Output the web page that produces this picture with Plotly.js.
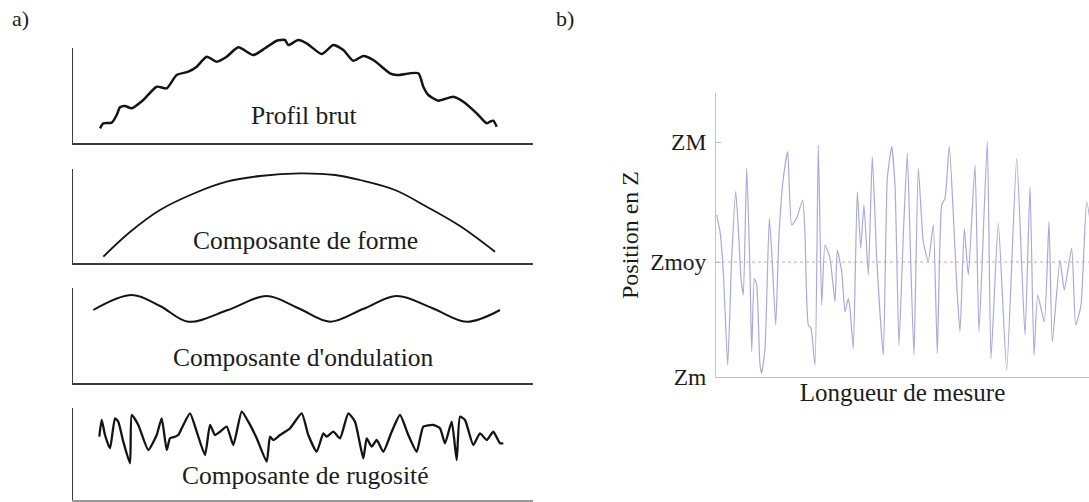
<!DOCTYPE html>
<html>
<head>
<meta charset="utf-8">
<script src="https://cdn.plot.ly/plotly-3.0.1.min.js"></script>
<style>html,body{margin:0;padding:0;background:#fff;}#chart{width:1089px;height:502px;}</style>
</head>
<body>
<div id="chart"></div>
<script>
// ---------- DATA ----------
// a) decomposition of a surface profile (position along profile, height)
const profileX = [28,31.3,39.7,44.7,48,53,59.7,71.3,84.7,94.7,104.7,116.3,124.7,134.7,144.7,154.7,166.3,181.3,193,204.7,213,216.3,226.3,234.7,249.7,261.3,271.3,281.3,291.3,301.3,318,324.7,346.3,351.3,356.3,366.3,381.3,391.3,404.7,414.7,418,421.3,424.7];
const profileZ = [14.7,19.7,20.3,28,35.7,37,34.7,43,56.3,54.7,68,71.3,76.3,86.3,81.3,86.3,95.7,88,94.7,102.3,103,98,103,99.7,89,98,93,82.3,87,83,69.7,68,69.7,56.3,48,42.3,46.3,41.3,29.7,19.7,21.3,22.3,16.3];

const formX = [31.3,58,88,123,154.7,188,228,263,288,323,354.7,388,423];
const formZ = [6.3,31,53,70,81.3,87,89.7,88,83,73,56.3,37,11.3];

const waveX = [21.3,59.7,88,116.3,156,194.7,226,258,291,324.7,360,394.7,428];
const waveZ = [73,88,77,61.3,73,87,75,61.3,74,87,75,61.3,73];

const roughX = [27.3,29.7,33,38,43,46.3,51.3,58,59.7,66.3,76.3,84.7,89.7,94.7,98,103,106.3,109.7,118,124.7,133,138,143,148,154.7,161.3,169.7,176.3,184.7,194.7,198,201.3,208,218,229.7,236.3,244.7,251.3,254.7,261.3,268,276.3,283,291.3,294.7,299.7,304.7,311.3,319.7,328,336.3,344.7,351.3,361.3,368,373,379.7,384.7,388,393,401.3,408,414.7,421.3,428,431.3];
const roughZ = [63.3,80,65,51.7,81.7,78.3,58.3,36.7,85,75,50,65,81.7,50,61.7,63.3,65,71.7,86.7,68.3,45,75,65,68.3,73.3,55,88.3,78.3,61.7,38.3,63.3,60,65,71.7,86.7,65,48.3,66.7,63.3,68.3,61.7,86.7,78.3,41.7,61.7,53.3,60,48.3,68.3,85,65,48.3,73.3,75,71.7,56.7,78.3,40,83.3,80,55,66.7,60,68.3,56.7,56.7];

const panelLabels = ["Profil brut", "Composante de forme", "Composante d'ondulation", "Composante de rugosité"];
const partLabels = ["a)", "b)"];

// b) measured profile along the measuring length
const measX = [0.7,4,7.3,11.7,15.7,19.7,22.3,25,27.3,30.7,34,35.7,38.3,40.7,44,45.7,49,53.3,55.7,59.7,63,67.3,71.7,75.7,80.7,86.7,89,92.3,95,99,102.3,105.7,109,114,119,121.3,125.7,129,132.3,134,137.3,141.3,144.7,148,152.3,156.3,160.7,167.3,171.3,175.7,179,183,187.3,191.3,195,198,202.3,207.3,212.3,217.3,221.3,225.7,229,233.3,238,240.7,244,248.3,252.3,259,263,271.3,275,282.3,290.7,300.7,309,314,318,321.7,328.3,333,336.3,344,348.3,355.7,359.7,365,370.7,379];
const measZ = [162,145.3,105.3,12,118.7,185.3,148.7,98.7,82,208.7,105.3,25.3,98.7,92,12,3.7,28.7,158.7,125.3,52,142,198.7,225.3,152,158.7,177,142,52,48.7,12,232,72,132,118.7,75.3,127,105.3,65.3,78.7,68.7,28.7,185.3,128.7,172,102,220.3,118.7,22,198.7,230.3,192,32,142,223.7,105.3,22,208.7,135.3,115.3,152,23.7,172,178.7,230.3,148.7,92,45.3,148.7,102,212,45.3,235.3,18.7,153.7,7,218.7,42,190.3,22,82,55.3,155.3,35.3,117,87,128.7,52,72,175.3,117];
const zLevels = [0, 115, 235];
const zLabels = ["Zm", "Zmoy", "ZM"];
const axisTitles = {x: "Longueur de mesure", y: "Position en Z"};

// ---------- LAYOUT / STYLE ----------
const W = 1089, H = 502;
const serif = "Liberation Serif, DejaVu Serif, Times New Roman, Times, serif";
const ink = '#1c1c1c';
const fy = p => 1 - p / H;   // pixel row -> paper fraction
const fx = p => p / W;

const leftDomX = [fx(72), fx(533)];
const panelBottoms = [143, 263, 383, 500];
const panelAxisH = [95, 94, 95, 92];
const panelSpan = 115;
const curveWidths = [2.5, 1.8, 2.0, 2.3];
const curveSmooth = [0.6, 1, 1, 0.5];
const labelPos = [[304,115],[305,240],[303,357],[304.5,475]];
const partPos = [[20,19],[565,19]];

const series = [[profileX, profileZ], [formX, formZ], [waveX, waveZ], [roughX, roughZ]];

const traces = [];
const layout = {
  width: W, height: H,
  margin: {l:0, r:0, t:0, b:0},
  paper_bgcolor: '#fff', plot_bgcolor: 'rgba(0,0,0,0)',
  showlegend: false,
  font: {family: serif, color: ink, size: 24},
  shapes: [], annotations: []
};

series.forEach((s, i) => {
  const n = i + 1;
  const xa = n === 1 ? 'x' : 'x' + n, ya = n === 1 ? 'y' : 'y' + n;
  traces.push({x: s[0], y: s[1], xaxis: xa, yaxis: ya, type: 'scatter', mode: 'lines',
    line: {color: '#141414', width: curveWidths[i], shape: 'spline', smoothing: curveSmooth[i]}, hoverinfo: 'skip'});
  const b = panelBottoms[i];
  layout['xaxis' + (n === 1 ? '' : n)] = {domain: leftDomX, range: [0, 461], anchor: ya,
    showline: true, linecolor: i === 3 ? '#9a9a9a' : '#3c3c3c', linewidth: 2, showgrid: false, zeroline: false,
    showticklabels: false, ticks: '', fixedrange: true};
  layout['yaxis' + (n === 1 ? '' : n)] = {domain: [fy(b), fy(b - panelSpan)], range: [0, panelSpan], anchor: xa,
    showline: false, showgrid: false, zeroline: false, showticklabels: false, ticks: '', fixedrange: true};
  layout.shapes.push({type: 'line', xref: xa, yref: ya, x0: 0, x1: 0, y0: 0, y1: panelAxisH[i],
    line: {color: '#3c3c3c', width: 2}});
  layout.annotations.push({text: panelLabels[i], xref: 'paper', yref: 'paper',
    x: fx(labelPos[i][0]), y: fy(labelPos[i][1]), xanchor: 'center', yanchor: 'middle', showarrow: false,
    font: {family: serif, size: 25.5, color: ink}});
});

partLabels.forEach((t, i) => layout.annotations.push({text: t, xref: 'paper', yref: 'paper',
  x: fx(partPos[i][0]), y: fy(partPos[i][1]), xanchor: 'center', yanchor: 'middle', showarrow: false,
  font: {family: serif, size: 22, color: ink}}));

// right chart
traces.push({x: measX, y: measZ, xaxis: 'x5', yaxis: 'y5', type: 'scatter', mode: 'lines',
  line: {color: '#a9a9dc', width: 1.2, shape: 'spline', smoothing: 0.5}, hoverinfo: 'skip'});
layout.xaxis5 = {domain: [fx(716), 1], range: [0, 373], anchor: 'y5', showline: true, linecolor: '#c4c4c4', linewidth: 1,
  showgrid: false, zeroline: false, showticklabels: false, ticks: '',
  title: {text: axisTitles.x, font: {family: serif, size: 25, color: ink}, standoff: 6}};
layout.yaxis5 = {domain: [fy(377), fy(93)], range: [0, 284], anchor: 'x5', showline: true, linecolor: '#c4c4c4', linewidth: 1,
  showgrid: false, zeroline: false, tickmode: 'array', tickvals: zLevels, ticktext: zLabels,
  ticks: 'inside', ticklen: 5, tickcolor: '#bdbdbd', ticklabelstandoff: 4,
  tickfont: {family: serif, size: 23.5, color: ink},
  title: {text: axisTitles.y, font: {family: serif, size: 24, color: ink}, standoff: 4}};
layout.shapes.push({type: 'line', xref: 'x5', yref: 'y5', x0: 0, x1: 373, y0: zLevels[1], y1: zLevels[1],
  line: {color: '#e89a9a', width: 1, dash: 'dot'}, layer: 'below'});

Plotly.newPlot('chart', traces, layout, {staticPlot: true, displayModeBar: false});
</script>
</body>
</html>
